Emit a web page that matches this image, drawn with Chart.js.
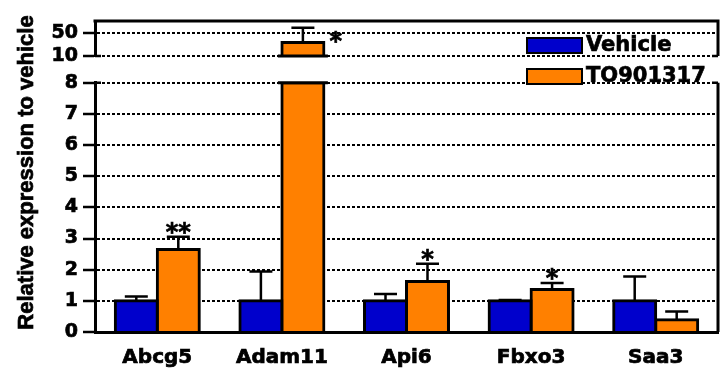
<!DOCTYPE html>
<html>
<head>
<meta charset="utf-8">
<script src="https://cdn.jsdelivr.net/npm/chart.js@4/dist/chart.umd.min.js"></script>
<style>
  html, body { margin: 0; padding: 0; background: #fff; }
</style>
</head>
<body>
<canvas id="chart" width="722" height="370"></canvas>
<script>
// Relative expression (mean ± SEM), vehicle vs TO901317
const categories = ['Abcg5', 'Adam11', 'Api6', 'Fbxo3', 'Saa3'];
const seriesNames = ['Vehicle', 'TO901317'];
const vehicleMean = [1.0, 1.0, 1.0, 1.0, 1.0];
const vehicleErr = [0.14, 0.94, 0.22, 0.03, 0.78];
const treatedMean = [2.65, 34, 1.62, 1.36, 0.39];
const treatedErr = [0.41, 26, 0.57, 0.21, 0.27];
const significance = ['**', '*', '*', '*', ''];
const lowerTicks = [0, 1, 2, 3, 4, 5, 6, 7, 8];
const upperTicks = [10, 50];

// broken y axis: 0–8 below the break, 10–72 above it
const LOWER_MAX = 8;
const UPPER_MIN = 10;
const UPPER_MAX = 72;

const BLUE = '#0000cc';
const ORANGE = '#ff8000';
const INK = '#000';
const TICK_FONT = { family: 'DejaVu Sans', weight: 'bold', size: 19 };
const TEXT_STROKE = 0.7;

const barCommon = {
  borderColor: INK,
  borderWidth: 3,
  inflateAmount: 1.5,
  barPercentage: 1.0,
  categoryPercentage: 0.674
};

const datasets = [
  Object.assign({
    label: seriesNames[0],
    data: vehicleMean.map(v => Math.min(v, LOWER_MAX)),
    yAxisID: 'yLow', stack: 'vehicle',
    backgroundColor: BLUE
  }, barCommon),
  Object.assign({
    label: seriesNames[1],
    data: treatedMean.map(v => Math.min(v, LOWER_MAX)),
    yAxisID: 'yLow', stack: 'treated',
    backgroundColor: ORANGE
  }, barCommon),
  // portion of the treated bars that continues above the break
  Object.assign({
    label: seriesNames[1] + ' (upper)',
    data: treatedMean.map(v => (v > UPPER_MIN ? v : null)),
    yAxisID: 'yHigh', stack: 'treated',
    base: UPPER_MIN,
    backgroundColor: ORANGE
  }, barCommon)
];

function yScale(extra) {
  return Object.assign({
    type: 'linear',
    position: 'left',
    stack: 'left',
    stacked: false,
    grid: {
      color: INK, lineWidth: 2,
      tickLength: 12, tickWidth: 2.5, tickColor: INK, tickBorderDash: []
    },
    border: { display: true, width: 3, color: INK, dash: [3, 2] },
    ticks: {
      font: TICK_FONT, color: INK, padding: 5, autoSkip: false,
      textStrokeColor: INK, textStrokeWidth: TEXT_STROKE
    },
    afterFit: s => { s.width = 95; }
  }, extra);
}

function heavyText(ctx, text, x, y) {
  ctx.fillText(text, x, y);
  ctx.lineWidth = TEXT_STROKE;
  ctx.strokeText(text, x, y);
}

const axisDecor = {
  id: 'axisDecor',
  afterDatasetsDraw(chart) {
    const ctx = chart.ctx;
    const area = chart.chartArea;
    const lo = chart.scales.yLow, hi = chart.scales.yHigh;
    const breakHi = hi.getPixelForValue(UPPER_MIN);
    const breakLo = lo.getPixelForValue(LOWER_MAX);
    ctx.save();
    ctx.strokeStyle = INK;
    ctx.lineCap = 'butt';

    // frame: top line and broken right edge
    ctx.lineWidth = 3;
    ctx.beginPath();
    ctx.moveTo(area.left - 1.5, area.top);
    ctx.lineTo(area.right + 1.5, area.top);
    ctx.moveTo(area.right, area.top);
    ctx.lineTo(area.right, breakHi);
    ctx.moveTo(area.right, breakLo);
    ctx.lineTo(area.right, area.bottom);
    ctx.stroke();
    ctx.lineWidth = 2.5;
    ctx.beginPath();
    ctx.moveTo(area.right - 6, breakHi); ctx.lineTo(area.right, breakHi);
    ctx.moveTo(area.right - 6, breakLo); ctx.lineTo(area.right, breakLo);
    ctx.moveTo(area.left, breakHi); ctx.lineTo(area.left + 6, breakHi);
    ctx.moveTo(area.left, breakLo); ctx.lineTo(area.left + 6, breakLo);
    ctx.stroke();

    // break caps on bars that cross the gap
    const upperMeta = chart.getDatasetMeta(2);
    ctx.lineWidth = 3;
    upperMeta.data.forEach((bar, i) => {
      if (treatedMean[i] <= UPPER_MIN) return;
      const half = bar.width / 2 + 4;
      ctx.beginPath();
      ctx.moveTo(bar.x - half, breakHi); ctx.lineTo(bar.x + half, breakHi);
      ctx.moveTo(bar.x - half, breakLo); ctx.lineTo(bar.x + half, breakLo);
      ctx.stroke();
    });

    // error bars (upper whiskers)
    const series = [
      { mean: vehicleMean, err: vehicleErr, meta: chart.getDatasetMeta(0) },
      { mean: treatedMean, err: treatedErr, meta: chart.getDatasetMeta(1) }
    ];
    const caps = [];
    series.forEach((s, k) => {
      s.mean.forEach((m, i) => {
        const sc = m > LOWER_MAX ? hi : lo;
        const x = s.meta.data[i].x;
        const yBar = sc.getPixelForValue(m);
        const yCap = sc.getPixelForValue(m + s.err[i]);
        ctx.lineWidth = 2.5;
        ctx.beginPath();
        ctx.moveTo(x, yBar); ctx.lineTo(x, yCap);
        ctx.moveTo(x - 11.5, yCap); ctx.lineTo(x + 11.5, yCap);
        ctx.stroke();
        if (k === 1) caps.push({ x, yBar, yCap, w: s.meta.data[i].width });
      });
    });

    // significance marks
    ctx.fillStyle = INK;
    ctx.font = 'bold 24px "DejaVu Sans"';
    ctx.textBaseline = 'alphabetic';
    ctx.textAlign = 'center';
    significance.forEach((mark, i) => {
      if (!mark) return;
      const c = caps[i];
      if (c.yCap - 16 < area.top) {
        heavyText(ctx, mark, c.x + c.w / 2 + 12, c.yBar + 7);
      } else {
        heavyText(ctx, mark, c.x, c.yCap + 3);
      }
    });

    // legend
    const lx = area.right - 191;
    const ly = area.top + 17;
    ctx.font = 'bold 21px "DejaVu Sans"';
    ctx.textAlign = 'left';
    ctx.textBaseline = 'middle';
    [BLUE, ORANGE].forEach((col, k) => {
      const y = ly + k * 31;
      ctx.fillStyle = col;
      ctx.fillRect(lx, y, 55, 15);
      ctx.lineWidth = 2;
      ctx.strokeRect(lx, y, 55, 15);
      ctx.fillStyle = INK;
      heavyText(ctx, seriesNames[k], lx + 59, y + 8);
    });

    // y axis title
    ctx.save();
    ctx.translate(33, (area.top + area.bottom) / 2 - 4);
    ctx.rotate(-Math.PI / 2);
    ctx.font = 'bold 22px "Liberation Sans"';
    ctx.textAlign = 'center';
    ctx.textBaseline = 'alphabetic';
    heavyText(ctx, 'Relative expression to vehicle', 0, 0);
    ctx.restore();

    ctx.restore();
  }
};

new Chart(document.getElementById('chart'), {
  type: 'bar',
  data: { labels: categories, datasets },
  options: {
    responsive: false,
    animation: false,
    devicePixelRatio: 1,
    layout: { padding: { top: 21, right: 4, left: 0, bottom: 0 } },
    plugins: { legend: { display: false }, tooltip: { enabled: false } },
    scales: {
      x: {
        type: 'category',
        grid: { display: false, drawTicks: false },
        border: { display: true, width: 3, color: INK },
        ticks: {
          font: { family: 'DejaVu Sans', weight: 'bold', size: 20 },
          color: INK, padding: 14, autoSkip: false, maxRotation: 0,
          textStrokeColor: INK, textStrokeWidth: TEXT_STROKE
        },
        afterFit: s => { s.height = 38; }
      },
      yLow: yScale({
        min: 0, max: LOWER_MAX, stackWeight: 249.3,
        afterBuildTicks: s => { s.ticks = lowerTicks.map(v => ({ value: v })); }
      }),
      yGap: {
        type: 'linear', position: 'left', stack: 'left', stackWeight: 26.7,
        grid: { display: false, drawTicks: false },
        border: { display: false },
        ticks: { display: false },
        afterFit: s => { s.width = 95; }
      },
      yHigh: yScale({
        min: UPPER_MIN, max: UPPER_MAX, stackWeight: 35,
        afterBuildTicks: s => { s.ticks = upperTicks.map(v => ({ value: v })); }
      })
    }
  },
  plugins: [axisDecor]
});
</script>
</body>
</html>
